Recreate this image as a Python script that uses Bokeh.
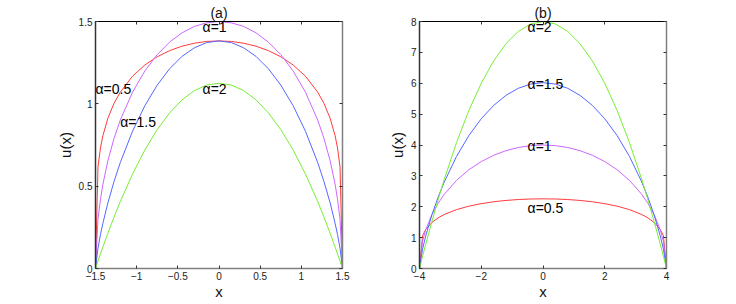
from bokeh.plotting import figure
from bokeh.layouts import row
from bokeh.models import Range1d, FixedTicker, LinearAxis, Label
from bokeh.embed import file_html
from bokeh.resources import INLINE

# ---------------- data: panel (a), domain (-1.5, 1.5) ----------------
xa = [-1.5, -1.47, -1.44, -1.41, -1.35, -1.275, -1.2, -1.05, -0.9, -0.75, -0.6, -0.45, -0.3, -0.15, 0,
      0.15, 0.3, 0.45, 0.6, 0.75, 0.9, 1.05, 1.2, 1.275, 1.35, 1.41, 1.44, 1.47, 1.5]
ua_05 = [0, 0.617, 0.731, 0.807, 0.912, 1.003, 1.070, 1.168, 1.236, 1.286, 1.323, 1.350, 1.368, 1.379, 1.382,
         1.379, 1.368, 1.350, 1.323, 1.286, 1.236, 1.168, 1.070, 1.003, 0.912, 0.807, 0.731, 0.617, 0]
ua_10 = [0, 0.299, 0.420, 0.512, 0.654, 0.790, 0.900, 1.071, 1.200, 1.299, 1.375, 1.431, 1.470, 1.492, 1.5,
         1.492, 1.470, 1.431, 1.375, 1.299, 1.200, 1.071, 0.900, 0.790, 0.654, 0.512, 0.420, 0.299, 0]
ua_15 = [0, 0.123, 0.205, 0.275, 0.398, 0.528, 0.642, 0.834, 0.989, 1.114, 1.213, 1.288, 1.340, 1.372, 1.382,
         1.372, 1.340, 1.288, 1.213, 1.114, 0.989, 0.834, 0.642, 0.528, 0.398, 0.275, 0.205, 0.123, 0]
ua_20 = [0, 0.045, 0.088, 0.131, 0.214, 0.312, 0.405, 0.574, 0.720, 0.844, 0.945, 1.024, 1.080, 1.114, 1.125,
         1.114, 1.080, 1.024, 0.945, 0.844, 0.720, 0.574, 0.405, 0.312, 0.214, 0.131, 0.088, 0.045, 0]

# ---------------- data: panel (b), domain (-4, 4) ----------------
xb = [-4, -3.9, -3.8, -3.6, -3.4, -3.2, -2.8, -2.4, -2.0, -1.6, -1.2, -0.8, -0.4, 0,
      0.4, 0.8, 1.2, 1.6, 2.0, 2.4, 2.8, 3.2, 3.4, 3.6, 3.8, 3.9, 4]
ub_05 = [0, 1.064, 1.261, 1.490, 1.638, 1.748, 1.907, 2.019, 2.100, 2.161, 2.204, 2.234, 2.251, 2.257,
         2.251, 2.234, 2.204, 2.161, 2.100, 2.019, 1.907, 1.748, 1.638, 1.490, 1.261, 1.064, 0]
ub_10 = [0, 0.889, 1.249, 1.744, 2.107, 2.400, 2.856, 3.200, 3.464, 3.666, 3.816, 3.919, 3.980, 4.0,
         3.980, 3.919, 3.816, 3.666, 3.464, 3.200, 2.856, 2.400, 2.107, 1.744, 1.249, 0.889, 0]
ub_15 = [0, 0.630, 1.050, 1.732, 2.301, 2.797, 3.632, 4.306, 4.850, 5.281, 5.607, 5.837, 5.973, 6.018,
         5.973, 5.837, 5.607, 5.281, 4.850, 4.306, 3.632, 2.797, 2.301, 1.732, 1.050, 0.630, 0]
ub_20 = [0, 0.395, 0.780, 1.520, 2.220, 2.880, 4.080, 5.120, 6.000, 6.720, 7.280, 7.680, 7.920, 8.0,
         7.920, 7.680, 7.280, 6.720, 6.000, 5.120, 4.080, 2.880, 2.220, 1.520, 0.780, 0.395, 0]

# ticks
xa_ticks = [-1.5, -1, -0.5, 0, 0.5, 1, 1.5]
xa_labels = ["\u22121.5", "\u22121", "\u22120.5", "0", "0.5", "1", "1.5"]
ya_ticks = [0, 0.5, 1, 1.5]
ya_labels = ["0", "0.5", "1", "1.5"]
xb_ticks = [-4, -2, 0, 2, 4]
xb_labels = ["\u22124", "\u22122", "0", "2", "4"]
yb_ticks = [0, 1, 2, 3, 4, 5, 6, 7, 8]
yb_labels = ["0", "1", "2", "3", "4", "5", "6", "7", "8"]

# curve labels: (text, x, y)
labels_a = [("\u03b1=0.5", -1.5, 1.09), ("\u03b1=1", -0.2, 1.465), ("\u03b1=1.5", -1.2, 0.89), ("\u03b1=2", -0.2, 1.09)]
labels_b = [("\u03b1=2", -0.5, 7.82), ("\u03b1=1.5", -0.5, 5.98), ("\u03b1=1", -0.5, 3.98), ("\u03b1=0.5", -0.5, 1.95)]
titles = ["(a)", "(b)"]

RED = "#ff3b3b"
VIOLET = "#cc66ff"
BLUE = "#5468ff"
GREEN = "#77ee33"
FONT = "Liberation Sans"


def style(p, xt, xl, yt, yl, xr, yr, title):
    p.x_range = Range1d(*xr)
    p.y_range = Range1d(*yr)
    p.xgrid.visible = False
    p.ygrid.visible = False
    p.outline_line_color = "black"
    p.outline_line_width = 1
    p.title.text = title
    p.title.align = "center"
    p.title.text_font = FONT
    p.title.text_font_size = "14px"
    p.title.text_font_style = "normal"
    p.title.text_color = "#111111"
    p.title.standoff = 2
    for ax, t, lab, col in ((p.xaxis[0], xt, xl, "#808080"), (p.yaxis[0], yt, yl, "#333333")):
        ax.ticker = FixedTicker(ticks=t)
        ax.major_label_overrides = {v: s for v, s in zip(t, lab)}
        ax.major_tick_in = 3
        ax.major_tick_out = 0
        ax.minor_tick_line_color = None
        ax.axis_line_color = col
        ax.axis_line_width = 1.5
        ax.major_tick_line_color = "#333333"
        ax.major_label_text_font = FONT
        ax.major_label_text_font_size = "10px"
        ax.major_label_text_color = "#222222"
        ax.major_label_standoff = 3
        ax.axis_label_text_font = FONT
        ax.axis_label_text_font_size = "15px"
        ax.axis_label_text_font_style = "normal"
        ax.axis_label_text_color = "#111111"
        ax.axis_label_standoff = 2
    p.xaxis[0].axis_label = "x"
    p.yaxis[0].axis_label = "u(x)"
    p.xaxis[0].axis_label_standoff = 0
    # mirrored ticks on top and right (no labels drawn)
    top = LinearAxis(ticker=FixedTicker(ticks=xt), major_label_text_font_size="1px",
                     major_label_text_color=None,
                     major_tick_in=3, major_tick_out=0, minor_tick_line_color=None,
                     major_label_standoff=0, axis_line_color="black",
                     major_tick_line_color="#333333")
    right = LinearAxis(ticker=FixedTicker(ticks=yt), major_label_text_font_size="1px",
                       major_label_text_color=None,
                       major_tick_in=3, major_tick_out=0, minor_tick_line_color=None,
                       major_label_standoff=0, axis_line_color="#808080", axis_line_width=1.5,
                       major_tick_line_color="#333333")
    p.add_layout(top, "above")
    p.add_layout(right, "right")


def add_label(p, text, x, y, **kw):
    p.add_layout(Label(x=x, y=y, text=text, text_font=FONT, text_font_size="14px",
                       text_baseline="middle", text_color="black", **kw))


p1 = figure(frame_width=247, frame_height=247, min_border_left=95, min_border_right=20,
            min_border_top=21, min_border_bottom=20, output_backend="svg", toolbar_location=None)
style(p1, xa_ticks, xa_labels, ya_ticks, ya_labels, (-1.5, 1.5), (0, 1.5), titles[0])
for ys, c in ((ua_05, RED), (ua_10, VIOLET), (ua_15, BLUE), (ua_20, GREEN)):
    p1.line(xa, ys, line_color=c, line_width=1)
for t, x, y in labels_a:
    add_label(p1, t, x, y)

p2 = figure(frame_width=247, frame_height=247, min_border_left=57, min_border_right=20,
            min_border_top=21, min_border_bottom=20, output_backend="svg", toolbar_location=None)
style(p2, xb_ticks, xb_labels, yb_ticks, yb_labels, (-4, 4), (0, 8), titles[1])
for ys, c in ((ub_05, RED), (ub_10, VIOLET), (ub_15, BLUE), (ub_20, GREEN)):
    p2.line(xb, ys, line_color=c, line_width=1)
for t, x, y in labels_b:
    add_label(p2, t, x, y)

layout = row(p1, p2)
open("out.html", "w").write(file_html(layout, INLINE))
